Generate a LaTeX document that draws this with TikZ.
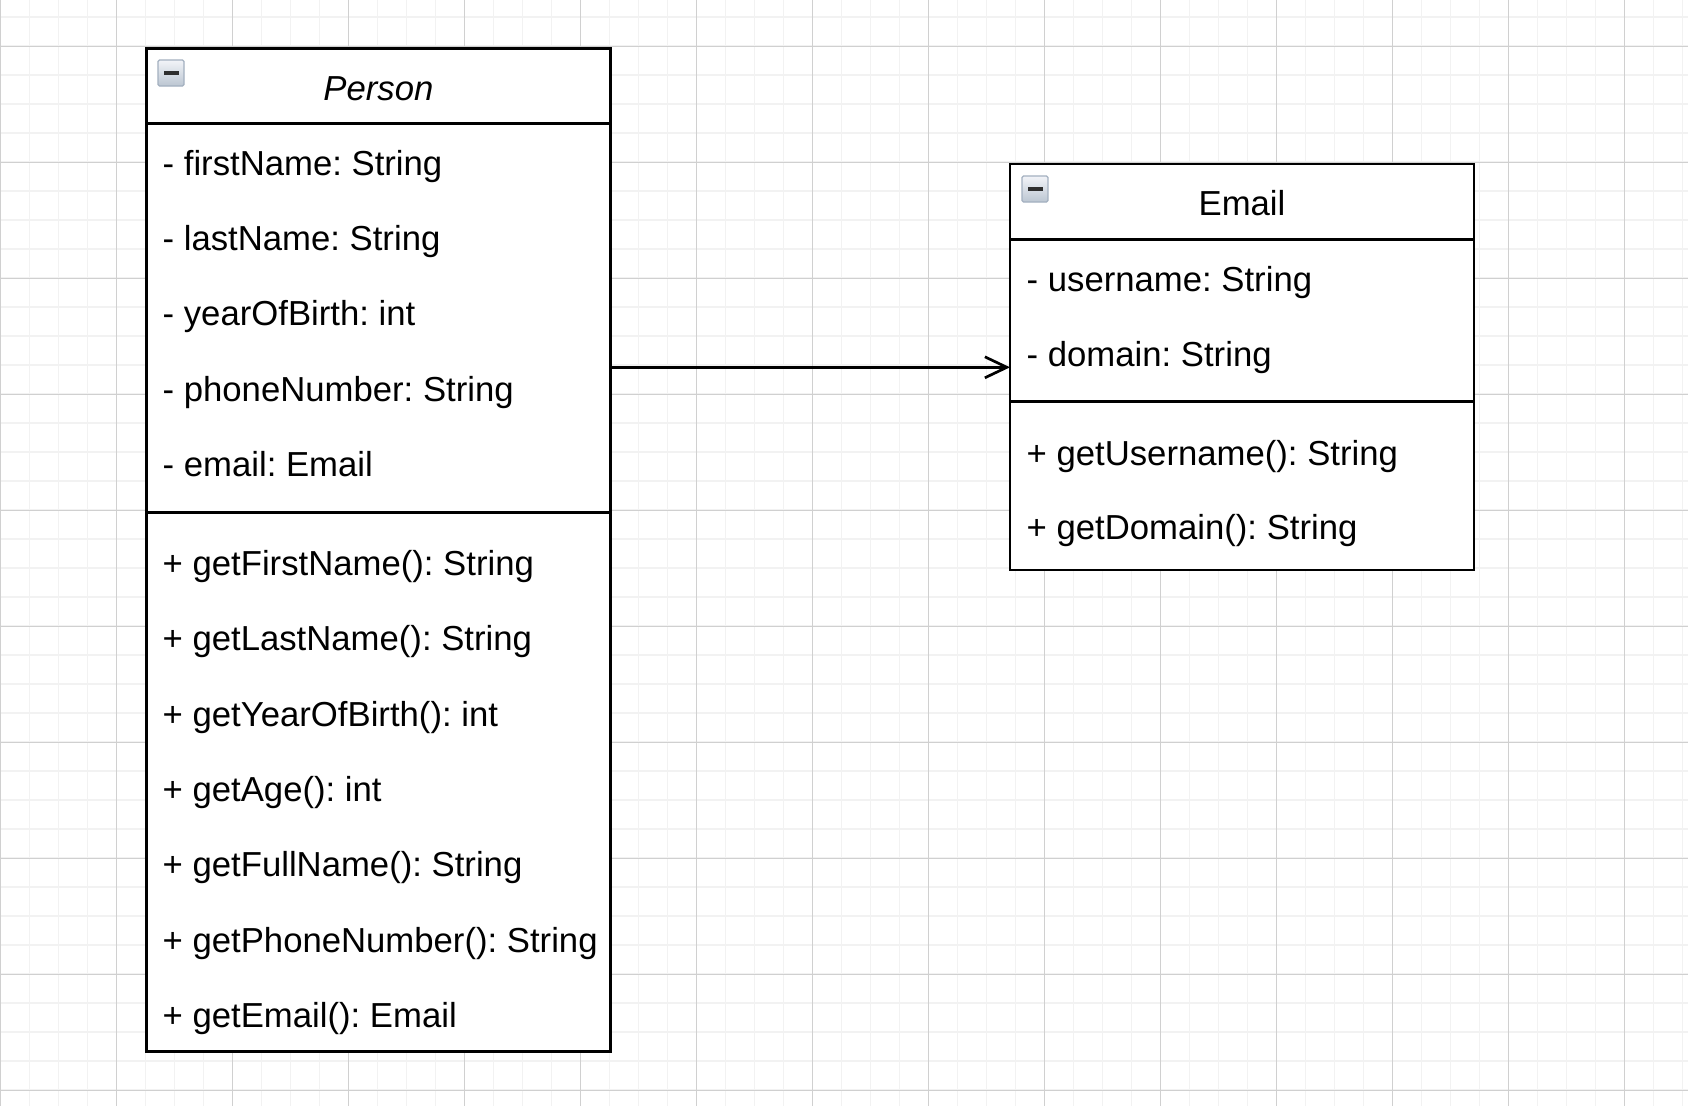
\documentclass[tikz,border=0pt]{standalone}
\usepackage{fontspec}
\setmainfont{Liberation Sans}
\usetikzlibrary{arrows.meta}
\definecolor{gridminor}{HTML}{F2F2F2}
\definecolor{gridmajor}{HTML}{D0D0D0}
\definecolor{iconedge}{HTML}{A3B0C0}
\definecolor{icontop}{HTML}{F2F4F8}
\definecolor{iconbot}{HTML}{BCC6D2}
\definecolor{icondashc}{HTML}{2E2E2E}
\frenchspacing
\begin{document}
\frenchspacing
\begin{tikzpicture}[x=1pt,y=-1pt,
  compart/.style={draw=black, line width=2.8pt, fill=white, outer sep=0pt, inner sep=0pt,
                  anchor=north west, minimum width=464pt},
  rowtext/.style={anchor=base west, inner sep=0pt, font=\fontsize{34.7}{40}\selectfont},
  titletext/.style={anchor=base, inner sep=0pt, font=\fontsize{34.7}{40}\selectfont},
  assoc/.style={line width=2.7pt, -{Straight Barb[length=22pt,width=21pt,line width=2.7pt]}},
  gminor/.style={draw=gridminor, line width=1.5pt},
  gmajor/.style={draw=gridmajor, line width=1pt},
  collapse/.style={draw=iconedge, line width=1.2pt, top color=icontop, bottom color=iconbot,
                   rounded corners=1.5pt, anchor=north west, minimum width=26pt, minimum height=26pt,
                   inner sep=0pt, outer sep=0pt},
  icondash/.style={draw=icondashc, line width=3.4pt}
]
\useasboundingbox (0,0) rectangle (1688,1106);
\fill[white] (0,0) rectangle (1688,1106);
% grid
\foreach \i in {0,...,58} \draw[gminor] ({0.7+29*\i},0) -- ({0.7+29*\i},1106);
\foreach \j in {0,...,37} \draw[gminor] (0,{17+29*\j}) -- (1688,{17+29*\j});
\foreach \i in {0,...,14} \draw[gmajor] ({0.7+116*\i},0) -- ({0.7+116*\i},1106);
\foreach \j in {0,...,9} \draw[gmajor] (0,{46+116*\j}) -- (1688,{46+116*\j});

% Person class
\node[compart, minimum height=75.4pt] (personhead) at (146.4,48.4) {};
\node[compart, minimum height=388.6pt] (personattr) at (personhead.south west) {};
\node[compart, minimum height=539.1pt] (personops) at (personattr.south west) {};
\node[collapse] (personicon) at (158,60) {};
\draw[icondash] ([xshift=6pt]personicon.west) -- ([xshift=-5pt]personicon.east);
\node[titletext, font=\fontsize{34.7}{40}\selectfont\itshape] (persontitle) at (378.4,100) {Person};
\node[rowtext] (pa1) at (162.5,175.0) {- firstName: String};
\node[rowtext] (pa2) at (162.5,250.4) {- lastName: String};
\node[rowtext] (pa3) at (162.5,325.8) {- yearOfBirth: int};
\node[rowtext] (pa4) at (162.5,401.2) {- phoneNumber: String};
\node[rowtext] (pa5) at (162.5,476.6) {- email: Email};
\node[rowtext] (pm1) at (162.5,575.2) {+ getFirstName(): String};
\node[rowtext] (pm2) at (162.5,650.6) {+ getLastName(): String};
\node[rowtext] (pm3) at (162.5,726.0) {+ getYearOfBirth(): int};
\node[rowtext] (pm4) at (162.5,801.4) {+ getAge(): int};
\node[rowtext] (pm5) at (162.5,876.8) {+ getFullName(): String};
\node[rowtext] (pm6) at (162.5,952.2) {+ getPhoneNumber(): String};
\node[rowtext] (pm7) at (162.5,1027.6) {+ getEmail(): Email};

% Email class
\node[compart, minimum height=75.3pt] (emailhead) at (1010,164) {};
\node[compart, minimum height=162.4pt] (emailattr) at (emailhead.south west) {};
\node[compart, minimum height=168.3pt] (emailops) at (emailattr.south west) {};
\node[collapse] (emailicon) at (1022,176) {};
\draw[icondash] ([xshift=6pt]emailicon.west) -- ([xshift=-5pt]emailicon.east);
\node[titletext] (emailtitle) at (1242,215.6) {Email};
\node[rowtext] (ea1) at (1026.5,291.2) {- username: String};
\node[rowtext] (ea2) at (1026.5,366.6) {- domain: String};
\node[rowtext] (em1) at (1026.5,465.0) {+ getUsername(): String};
\node[rowtext] (em2) at (1026.5,539.6) {+ getDomain(): String};

% association
\coordinate (assocy) at (0,367.3);
\draw[assoc] (personattr.east |- assocy) -- (emailattr.west |- assocy);
\end{tikzpicture}
\end{document}
